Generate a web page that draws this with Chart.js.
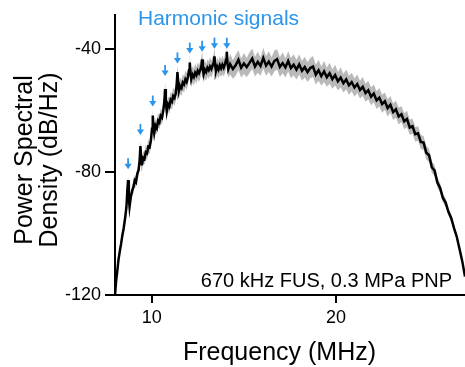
<!DOCTYPE html>
<html>
<head>
<meta charset="utf-8">
<script src="https://cdn.jsdelivr.net/npm/chart.js@4/dist/chart.umd.min.js"></script>
<style>
html,body{margin:0;padding:0;background:#fff;}
#wrap{width:465px;height:367px;}
</style>
</head>
<body>
<div id="wrap"><canvas id="c" width="465" height="367"></canvas></div>
<script>
// ---- data ----
const freqMHz = [
 8.00,8.06,8.12,8.19,8.26,8.33,8.40,8.47,8.55,8.62,8.67,8.71,8.75,8.79,8.86,8.93,9.00,9.07,9.14,9.21,9.28,9.34,9.38,9.42,9.46,
 9.53,9.60,9.67,9.74,9.81,9.88,9.95,10.01,10.05,10.09,10.13,10.20,10.27,10.34,10.41,10.48,10.55,10.62,10.68,10.72,10.76,10.81,
 10.88,10.95,11.02,11.09,11.16,11.23,11.30,11.35,11.39,11.43,11.47,11.54,11.61,11.68,11.75,11.82,11.89,11.96,12.02,12.06,12.10,12.14,
 12.21,12.28,12.35,12.42,12.49,12.56,12.63,12.69,12.73,12.77,12.81,12.88,12.95,13.02,13.09,13.16,13.23,13.30,13.36,13.40,13.44,13.48,
 13.55,13.62,13.69,13.76,13.83,13.90,13.97,14.03,14.07,14.11,14.15,
 14.25,14.40,14.55,14.70,14.85,15.00,15.15,15.30,15.45,15.60,15.75,15.90,16.05,16.20,16.35,16.50,16.65,16.80,16.95,17.10,17.25,17.40,
 17.55,17.70,17.85,18.00,18.15,18.30,18.45,18.60,18.75,18.90,19.05,19.20,19.35,19.50,19.65,19.80,19.95,20.10,20.25,20.40,20.55,20.70,
 20.85,21.00,21.15,21.30,21.45,21.60,21.75,21.90,22.05,22.20,22.35,22.50,22.65,22.80,22.95,23.10,23.25,23.40,23.55,23.70,23.85,24.00,
 24.15,24.30,24.45,24.60,24.75,24.90,25.05,25.20,25.35,25.50,25.65,25.80,25.95,26.10,26.25,26.40,26.55,26.70,26.85,27.00
];
// mean power spectral density (black trace)
const psdDb = [
 -120,-115.5,-112.5,-108.5,-105.8,-103.4,-100.6,-98.4,-95.0,-91.5,-86.0,-82.7,-88.5,-91.3,-88.0,-86.2,-85.0,-82.8,-83.4,-80.6,-79.5,-76.0,-71.6,-75.5,-77.9,
 -75.4,-75.8,-73.6,-74.0,-71.8,-72.0,-69.8,-66.0,-61.7,-65.5,-67.4,-65.0,-65.8,-63.4,-64.0,-61.8,-62.4,-60.2,-57.0,-53.1,-57.5,-60.4,
 -58.0,-58.8,-56.6,-57.2,-55.4,-56.0,-54.5,-51.5,-47.6,-51.0,-53.7,-52.2,-52.8,-51.0,-51.6,-50.0,-50.8,-49.2,-47.0,-44.5,-47.8,-49.9,
 -48.4,-49.2,-47.8,-48.6,-47.2,-48.0,-46.9,-45.6,-43.5,-46.5,-48.3,-46.8,-47.6,-46.2,-47.0,-45.8,-46.6,-45.4,-44.6,-42.5,-45.6,-47.3,
 -45.8,-46.8,-45.4,-46.4,-45.2,-46.2,-45.0,-43.6,-41.0,-44.8,-46.7,
 -45.0,-46.6,-45.4,-43.6,-46.2,-44.8,-46.0,-44.6,-43.2,-45.8,-44.3,-45.6,-43.0,-45.5,-44.2,-45.8,-44.0,-43.4,-45.9,-44.7,-46.1,-44.0,
 -46.3,-45.2,-46.8,-45.1,-47.2,-46.0,-47.6,-46.3,-45.8,-48.4,-47.0,-48.9,-47.4,-49.3,-48.0,-49.9,-48.6,-50.6,-49.4,-51.2,-50.0,-51.9,
 -50.9,-52.6,-51.5,-53.4,-52.4,-54.4,-53.5,-55.6,-54.6,-56.8,-55.9,-58.0,-57.1,-59.3,-58.2,-60.6,-59.7,-62.0,-61.3,-63.6,-62.8,-65.6,
 -65.2,-67.8,-67.5,-70.3,-70.5,-73.8,-74.6,-78.5,-79.6,-83.5,-85.2,-88.5,-90.0,-93.0,-95.0,-98.2,-101.0,-105.0,-109.0,-114.0
];
// upper edge of the grey variability band
const psdUpperDb = [
 -119,-114.3,-111.2,-107.2,-104.4,-102.0,-99.2,-96.8,-93.6,-89.8,-84.6,-81.4,-86.6,-89.6,-86.2,-84.4,-83.0,-81.0,-81.4,-78.8,-77.5,-74.2,-70.0,-73.6,-75.8,
 -73.2,-73.9,-71.2,-72.0,-69.4,-70.0,-67.4,-64.0,-59.6,-63.2,-65.3,-62.6,-63.6,-61.0,-61.8,-59.4,-60.2,-57.8,-54.8,-51.0,-55.0,-58.2,
 -55.6,-56.0,-54.0,-54.8,-52.6,-53.4,-51.8,-49.0,-45.2,-48.4,-51.0,-49.4,-50.2,-48.2,-49.0,-47.2,-48.0,-46.6,-44.4,-42.0,-45.0,-47.2,
 -45.6,-46.6,-44.8,-46.0,-44.4,-45.4,-44.0,-42.8,-40.8,-43.6,-45.6,-43.8,-45.0,-43.4,-44.2,-42.8,-44.0,-42.6,-41.8,-39.8,-42.6,-44.6,
 -42.8,-44.0,-42.4,-43.6,-42.2,-43.4,-42.0,-40.8,-38.6,-41.8,-44.0,
 -41.6,-43.8,-42.0,-40.4,-43.2,-41.4,-43.0,-41.2,-40.0,-42.6,-41.0,-42.8,-39.8,-42.4,-40.8,-42.8,-40.6,-40.2,-42.8,-41.2,-43.2,-40.8,
 -43.0,-41.8,-43.6,-41.8,-44.0,-42.6,-44.4,-43.0,-42.4,-45.2,-43.6,-45.8,-44.0,-46.2,-44.6,-46.8,-45.2,-47.6,-46.0,-48.2,-46.8,-48.8,
 -47.8,-49.6,-48.4,-50.4,-49.2,-51.4,-50.4,-52.6,-51.6,-53.8,-52.8,-55.0,-54.2,-56.4,-55.4,-57.8,-56.8,-59.2,-58.6,-61.0,-60.2,-63.0,
 -62.8,-65.4,-65.2,-68.0,-68.4,-71.6,-72.6,-76.6,-77.8,-81.8,-83.6,-87.0,-88.6,-91.8,-93.8,-97.2,-100.0,-104.2,-108.4,-113.4
];
// lower edge of the grey variability band
const psdLowerDb = [
 -120,-116.8,-113.8,-109.8,-107.2,-104.8,-102.0,-100.0,-96.6,-93.2,-87.6,-84.4,-90.2,-93.2,-89.8,-88.0,-87.0,-84.6,-85.2,-82.4,-81.5,-77.8,-73.4,-77.4,-79.8,
 -77.4,-77.6,-75.6,-76.2,-73.8,-74.2,-72.0,-68.0,-63.8,-67.6,-69.4,-67.2,-67.8,-65.6,-66.2,-64.0,-64.6,-62.4,-59.2,-55.4,-59.8,-62.6,
 -60.4,-61.2,-59.0,-59.8,-57.8,-58.6,-57.0,-54.0,-50.0,-53.6,-56.2,-54.8,-55.4,-53.6,-54.2,-52.6,-53.4,-51.8,-49.6,-47.0,-50.4,-52.6,
 -51.0,-52.0,-50.4,-51.4,-49.8,-50.8,-49.6,-48.2,-46.0,-49.2,-51.0,-49.6,-50.4,-49.0,-49.8,-48.6,-49.4,-48.2,-47.2,-45.2,-48.4,-50.0,
 -48.6,-49.6,-48.4,-49.2,-48.2,-49.0,-48.0,-46.4,-43.6,-47.6,-49.4,
 -48.4,-49.8,-48.8,-47.0,-49.4,-48.2,-49.2,-48.0,-46.6,-49.0,-47.8,-48.8,-46.4,-48.8,-47.6,-49.0,-47.4,-46.8,-49.2,-48.0,-49.4,-47.4,
 -49.6,-48.6,-50.0,-48.4,-50.4,-49.4,-50.8,-49.6,-49.2,-51.6,-50.4,-52.0,-50.8,-52.4,-51.4,-53.0,-52.0,-53.6,-52.6,-54.2,-53.2,-55.0,
 -53.8,-55.6,-54.4,-56.2,-55.4,-57.2,-56.4,-58.4,-57.4,-59.6,-58.8,-60.8,-59.8,-62.0,-60.8,-63.2,-62.4,-64.6,-63.8,-66.2,-65.4,-68.0,
 -67.6,-70.2,-69.8,-72.6,-72.8,-76.0,-76.8,-80.4,-81.4,-85.2,-86.8,-90.0,-91.4,-94.2,-96.2,-99.2,-102.0,-105.8,-109.6,-114.6
];
const harmonicsMHz = [8.71, 9.38, 10.05, 10.72, 11.39, 12.06, 12.73, 13.40, 14.07];
const arrowTipDb   = [-79.2, -68.0, -58.8, -48.9, -44.8, -41.6, -41.0, -40.0, -40.0];
const xTicks = [10, 20];
const yTicks = [-120, -80, -40];
const xTitle = 'Frequency (MHz)';
const yTitle = ['Power Spectral', 'Density (dB/Hz)'];
const harmonicLabel = 'Harmonic signals';
const conditionLabel = '670 kHz FUS, 0.3 MPa PNP';

const FONT = "'Liberation Sans', Arial, Helvetica, sans-serif";
const BLUE = '#2b95ec';

const toPts = arr => freqMHz.map((f, i) => ({x: f, y: arr[i]}));

const overlay = {
  id: 'overlay',
  afterDatasetsDraw(chart) {
    const ctx = chart.ctx;
    const xs = chart.scales.x, ys = chart.scales.y;
    ctx.save();
    // arrows
    ctx.fillStyle = BLUE; ctx.strokeStyle = BLUE; ctx.lineWidth = 1.8;
    harmonicsMHz.forEach((f, i) => {
      const px = xs.getPixelForValue(f);
      const py = ys.getPixelForValue(arrowTipDb[i]);
      ctx.beginPath(); ctx.moveTo(px, py - 11); ctx.lineTo(px, py - 4); ctx.stroke();
      ctx.beginPath(); ctx.moveTo(px - 3.6, py - 5.5); ctx.lineTo(px + 3.6, py - 5.5); ctx.lineTo(px, py); ctx.closePath(); ctx.fill();
    });
    // texts
    ctx.textBaseline = 'alphabetic';
    ctx.fillStyle = BLUE;
    ctx.font = '21px ' + FONT;
    ctx.textAlign = 'left';
    ctx.fillText(harmonicLabel, 138, 25);
    ctx.fillStyle = '#000';
    ctx.font = '20px ' + FONT;
    ctx.textAlign = 'right';
    ctx.fillText(conditionLabel, 452, 287);
    // axis titles
    ctx.font = '25px ' + FONT;
    ctx.textAlign = 'center';
    ctx.fillText(xTitle, 279.5, 360);
    ctx.translate(0, 160);
    ctx.rotate(-Math.PI / 2);
    ctx.fillText(yTitle[0], 0, 31.5);
    ctx.fillText(yTitle[1], 0, 56.5);
    ctx.restore();
  }
};

new Chart(document.getElementById('c'), {
  type: 'line',
  data: {
    datasets: [
      {data: toPts(psdUpperDb), order: 3, borderWidth: 0, borderColor: 'rgba(0,0,0,0)', backgroundColor: '#b9b9b9', fill: '+1', pointRadius: 0, tension: 0},
      {data: toPts(psdLowerDb), order: 3, borderWidth: 0, borderColor: 'rgba(0,0,0,0)', backgroundColor: '#b9b9b9', fill: false, pointRadius: 0, tension: 0},
      {data: toPts(psdDb), order: 1, borderColor: '#000', borderWidth: 2.5, pointRadius: 0, tension: 0, fill: false}
    ]
  },
  options: {
    responsive: false,
    devicePixelRatio: 1,
    animation: false,
    events: [],
    layout: {padding: {top: 10, right: 0, bottom: 0, left: 0}},
    plugins: {legend: {display: false}, tooltip: {enabled: false}, filler: {propagate: false}},
    scales: {
      x: {
        type: 'linear', min: 8, max: 27,
        afterBuildTicks: s => { s.ticks = xTicks.map(v => ({value: v})); },
        afterFit: s => { s.height = 72; },
        ticks: {color: '#000', font: {family: FONT, size: 18}, padding: 4, maxRotation: 0},
        grid: {drawOnChartArea: false, drawTicks: true, tickLength: 8, color: '#000', lineWidth: 2},
        border: {display: true, color: '#000', width: 2}
      },
      y: {
        type: 'linear', min: -120, max: -29,
        afterBuildTicks: s => { s.ticks = yTicks.map(v => ({value: v})); },
        afterFit: s => { s.width = 115; },
        ticks: {color: '#000', font: {family: FONT, size: 18}, padding: 4},
        grid: {drawOnChartArea: false, drawTicks: true, tickLength: 10, color: '#000', lineWidth: 2},
        border: {display: true, color: '#000', width: 2}
      }
    }
  },
  plugins: [overlay]
});
</script>
</body>
</html>
